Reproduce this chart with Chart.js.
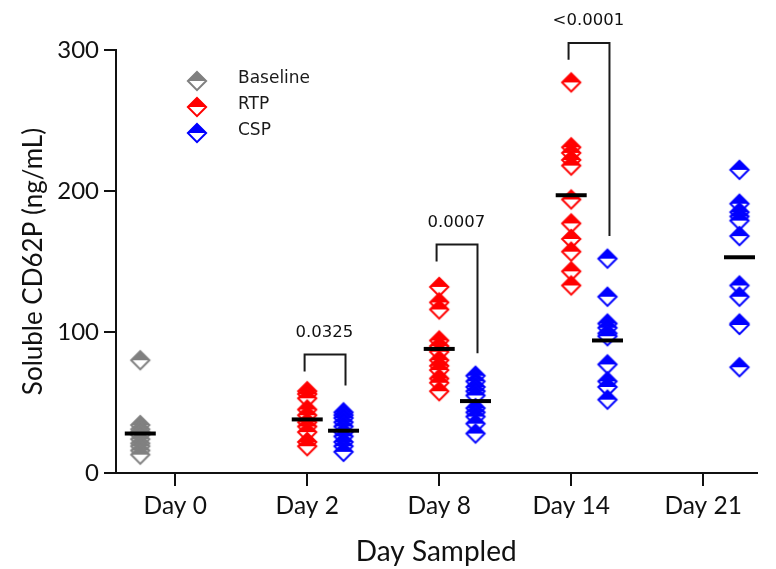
<!DOCTYPE html>
<html><head><meta charset="utf-8">
<script src="https://cdn.jsdelivr.net/npm/chart.js@4.4.0/dist/chart.umd.min.js"></script>
<style>html,body{margin:0;padding:0;background:#fff}#wrap{width:776px;height:569px}</style>
</head><body><div id="wrap"><canvas id="c" width="776" height="569"></canvas></div>
<script>
// ---- data ----
const days = ['Day 0', 'Day 2', 'Day 8', 'Day 14', 'Day 21'];
const yTicks = [0, 100, 200, 300];
const seriesNames = ['Baseline', 'RTP', 'CSP'];

const baselineDay0 = [80, 34, 31, 29, 27, 24, 21, 19, 16, 13];
const rtpDay2  = [58, 56, 53, 45, 41, 36, 33, 29, 22, 19];
const rtpDay8  = [132, 121, 116, 94, 90, 86, 80, 76, 73, 67, 64, 58];
const rtpDay14 = [277, 231, 227, 222, 218, 194, 177, 166, 157, 143, 133];
const cspDay2  = [43, 41, 39, 36, 33, 29, 26, 22, 19, 15];
const cspDay8  = [69, 65, 61, 58, 55, 46, 43, 40, 35, 28];
const cspDay14 = [152, 125, 106, 103, 99, 97, 77, 65, 61, 52];
const cspDay21 = [215, 191, 185, 182, 179, 168, 133, 125, 106, 105, 75];

const baselineMedian = [28];            // Day 0
const rtpMedians = [38, 88, 197];       // Day 2, 8, 14
const cspMedians = [30, 51, 94, 153];   // Day 2, 8, 14, 21

const pDays = [1, 2, 3];                // Day 2, Day 8, Day 14
const pLabels = ['0.0325', '0.0007', '<0.0001'];
const bracketTop   = [84, 162, 305];
const bracketLeft  = [72, 150, 293];
const bracketRight = [62, 85, 168];

// ---- styling ----
const OFF = { base: -0.265, rtp: 0, csp: 0.275 };
const COL = { base: '#808080', rtp: '#ff0000', csp: '#0000ff' };

function diamond(color) {
  const s = 24, m = s / 2, r = 9.6;
  const c = document.createElement('canvas');
  c.width = s; c.height = s;
  const g = c.getContext('2d');
  g.beginPath(); g.moveTo(m, m - r); g.lineTo(m + r, m); g.lineTo(m, m + r); g.lineTo(m - r, m); g.closePath();
  g.fillStyle = '#fff'; g.fill();
  g.beginPath(); g.moveTo(m, m - r); g.lineTo(m + r, m); g.lineTo(m - r, m); g.closePath();
  g.fillStyle = color; g.fill();
  g.beginPath(); g.moveTo(m, m - r + 0.5); g.lineTo(m + r - 0.5, m); g.lineTo(m, m + r - 0.5); g.lineTo(m - r + 0.5, m); g.closePath();
  g.lineWidth = 2; g.strokeStyle = color; g.stroke();
  return c;
}
const icons = { base: diamond(COL.base), rtp: diamond(COL.rtp), csp: diamond(COL.csp) };

const pts = (arr, dayIdx, off) => arr.map(v => ({ x: dayIdx + off, y: v }));

const baseData = pts(baselineDay0, 0, OFF.base);
const rtpData = [].concat(pts(rtpDay2, 1, OFF.rtp), pts(rtpDay8, 2, OFF.rtp), pts(rtpDay14, 3, OFF.rtp));
const cspData = [].concat(pts(cspDay2, 1, OFF.csp), pts(cspDay8, 2, OFF.csp), pts(cspDay14, 3, OFF.csp), pts(cspDay21, 4, OFF.csp));
const medianData = [].concat(
  baselineMedian.map(v => ({ x: 0 + OFF.base, y: v })),
  rtpMedians.map((v, i) => ({ x: i + 1 + OFF.rtp, y: v })),
  cspMedians.map((v, i) => ({ x: i + 1 + OFF.csp, y: v }))
);

const bracketSets = pDays.map((d, i) => ({
  type: 'scatter', showLine: true, clip: false, order: 0,
  data: [
    { x: d - 0.02, y: bracketLeft[i] }, { x: d - 0.02, y: bracketTop[i] },
    { x: d + 0.29, y: bracketTop[i] }, { x: d + 0.29, y: bracketRight[i] }
  ],
  borderColor: '#1a1a1a', borderWidth: 2, pointRadius: 0, fill: false, tension: 0
}));

const overlay = {
  id: 'overlay',
  afterDatasetsDraw(chart) {
    const { ctx, scales } = chart;
    ctx.save();
    // p-values
    ctx.fillStyle = '#111';
    ctx.font = '16.5px "DejaVu Sans"';
    ctx.textAlign = 'center'; ctx.textBaseline = 'middle';
    pDays.forEach((d, i) => {
      ctx.fillText(pLabels[i], scales.x.getPixelForValue(d + 0.13), scales.y.getPixelForValue(bracketTop[i]) - 22);
    });
    // legend
    const keys = ['base', 'rtp', 'csp'];
    ctx.font = '17px "DejaVu Sans"';
    ctx.textAlign = 'left';
    ctx.fillStyle = '#1a1a1a';
    keys.forEach((k, i) => {
      const y = 81 + i * 26;
      ctx.drawImage(icons[k], 197 - 12, y - 12);
      ctx.fillText(seriesNames[i], 238, y - 2);
    });
    ctx.restore();
  }
};

new Chart(document.getElementById('c'), {
  type: 'scatter',
  data: {
    datasets: [
      { label: 'median', data: medianData, order: 0, clip: false, pointStyle: 'line', pointRadius: 15.5, pointHoverRadius: 15.5, borderColor: '#000', borderWidth: 4, backgroundColor: '#000' },
      ...bracketSets,
      { label: 'CSP', data: cspData, order: 1, clip: false, pointStyle: icons.csp, pointRadius: 10 },
      { label: 'RTP', data: rtpData, order: 2, clip: false, pointStyle: icons.rtp, pointRadius: 10 },
      { label: 'Baseline', data: baseData, order: 3, clip: false, pointStyle: icons.base, pointRadius: 10 }
    ]
  },
  options: {
    responsive: false, animation: false, devicePixelRatio: 1,
    layout: { padding: { left: 0, right: 0, top: 50, bottom: 0 } },
    plugins: { legend: { display: false }, tooltip: { enabled: false } },
    scales: {
      x: {
        type: 'linear', min: -0.449, max: 4.404,
        afterFit: s => { s.height = 96; },
        afterBuildTicks: s => { s.ticks = days.map((d, i) => ({ value: i })); },
        ticks: { callback: v => days[v] ?? '', color: '#111', font: { family: 'Lato', size: 24.5 }, padding: 5, maxRotation: 0, autoSkip: false },
        grid: { drawOnChartArea: false, drawTicks: true, tickLength: 13, color: '#111', lineWidth: 2 },
        border: { display: true, color: '#111', width: 2 },
        title: { display: true, text: 'Day Sampled', color: '#111', font: { family: 'Lato', size: 28 }, padding: { top: 1, bottom: 0 } }
      },
      y: {
        min: 0, max: 300,
        afterFit: s => { s.width = 116; },
        afterBuildTicks: s => { s.ticks = yTicks.map(v => ({ value: v })); },
        ticks: { color: '#111', font: { family: 'Lato', size: 24 }, padding: 5 },
        grid: { drawOnChartArea: false, drawTicks: true, tickLength: 12, color: '#111', lineWidth: 2 },
        border: { display: true, color: '#111', width: 2 },
        title: { display: true, text: 'Soluble CD62P (ng/mL)', color: '#111', font: { family: 'Lato', size: 26 }, padding: { top: 18, bottom: 0 } }
      }
    }
  },
  plugins: [overlay]
});
</script>
</body></html>
